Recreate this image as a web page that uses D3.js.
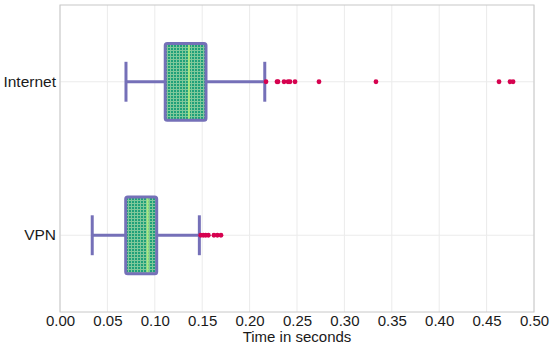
<!DOCTYPE html>
<html>
<head>
<meta charset="utf-8">
<script src="https://cdn.jsdelivr.net/npm/d3@7"></script>
<style>
  body { margin: 0; background: #fff; }
  svg { font-family: "Liberation Sans", Arial, sans-serif; }
</style>
</head>
<body>
<div id="chart"></div>
<script>
// data
const categories = ["Internet", "VPN"];
const q1 = [0.111, 0.0693];
const median = [0.136, 0.0925];
const q3 = [0.154, 0.102];
const whiskerLow = [0.0696, 0.034];
const whiskerHigh = [0.216, 0.147];
const outliersInternet = [0.2173, 0.2289, 0.230, 0.2363, 0.2405, 0.2426, 0.2479, 0.2732, 0.3333, 0.4631, 0.4747, 0.4779];
const outliersVPN = [0.1484, 0.1512, 0.1537, 0.1565, 0.1624, 0.1660, 0.1698];
const xTicks = [0, 0.05, 0.1, 0.15, 0.2, 0.25, 0.3, 0.35, 0.4, 0.45, 0.5];

const outliers = [outliersInternet, outliersVPN];

const width = 550, height = 344;
const margin = { top: 5, right: 16, bottom: 32, left: 60 };

const svg = d3.select('#chart').append('svg')
  .attr('width', width)
  .attr('height', height);

const defs = svg.append('defs');
const pat = defs.append('pattern')
  .attr('id', 'grid-fill')
  .attr('patternUnits', 'userSpaceOnUse')
  .attr('width', 3)
  .attr('height', 3);
pat.append('rect').attr('width', 3).attr('height', 3).attr('fill', '#20a079');
pat.append('rect').attr('x', 2).attr('width', 1).attr('height', 3).attr('fill', '#80c89a');
pat.append('rect').attr('y', 2).attr('width', 3).attr('height', 1).attr('fill', '#80c89a');

const x = d3.scaleLinear()
  .domain([0, 0.5])
  .range([margin.left, width - margin.right]);

const y = d3.scaleBand()
  .domain(categories)
  .range([margin.top, height - margin.bottom]);

const g = svg.append('g');

// grid
g.selectAll('.vgrid').data(xTicks).enter().append('line')
  .attr('x1', d => x(d)).attr('x2', d => x(d))
  .attr('y1', margin.top).attr('y2', height - margin.bottom)
  .attr('stroke', '#ebebeb').attr('stroke-width', 1);

g.selectAll('.hgrid').data(categories).enter().append('line')
  .attr('x1', margin.left).attr('x2', width - margin.right)
  .attr('y1', d => y(d) + y.bandwidth() / 2).attr('y2', d => y(d) + y.bandwidth() / 2)
  .attr('stroke', '#ebebeb').attr('stroke-width', 1);

// boxes
const boxH = y.bandwidth() * 0.5;
const capH = y.bandwidth() * 0.26;
const purple = '#7570b8';

categories.forEach((c, i) => {
  const cy = y(c) + y.bandwidth() / 2;
  const bg = g.append('g');
  // whiskers
  bg.append('line')
    .attr('x1', x(whiskerLow[i])).attr('x2', x(q1[i]))
    .attr('y1', cy).attr('y2', cy)
    .attr('stroke', purple).attr('stroke-width', 3);
  bg.append('line')
    .attr('x1', x(q3[i])).attr('x2', x(whiskerHigh[i]))
    .attr('y1', cy).attr('y2', cy)
    .attr('stroke', purple).attr('stroke-width', 3);
  [whiskerLow[i], whiskerHigh[i]].forEach(v => {
    bg.append('line')
      .attr('x1', x(v)).attr('x2', x(v))
      .attr('y1', cy - capH / 2).attr('y2', cy + capH / 2)
      .attr('stroke', purple).attr('stroke-width', 3);
  });
  // box
  bg.append('rect')
    .attr('x', x(q1[i])).attr('width', x(q3[i]) - x(q1[i]))
    .attr('y', cy - boxH / 2).attr('height', boxH)
    .attr('rx', 2).attr('ry', 2)
    .attr('fill', 'url(#grid-fill)')
    .attr('stroke', purple).attr('stroke-width', 3);
  // median
  bg.append('line')
    .attr('x1', x(median[i])).attr('x2', x(median[i]))
    .attr('y1', cy - boxH / 2 + 1.5).attr('y2', cy + boxH / 2 - 1.5)
    .attr('stroke', '#a8e880').attr('stroke-width', 2);
  // outliers
  bg.selectAll('.out').data(outliers[i]).enter().append('circle')
    .attr('cx', d => x(d)).attr('cy', cy).attr('r', 2.4)
    .attr('fill', '#d6024f');
});

// panel border
g.append('rect')
  .attr('x', margin.left).attr('y', margin.top)
  .attr('width', width - margin.right - margin.left)
  .attr('height', height - margin.bottom - margin.top)
  .attr('fill', 'none').attr('stroke', '#c8c8c8').attr('stroke-width', 1);

// x axis
const xAxis = svg.append('g')
  .attr('transform', `translate(0,${height - margin.bottom})`)
  .call(d3.axisBottom(x).tickValues(xTicks).tickFormat(d3.format('.2f')).tickSize(0).tickPadding(3));
xAxis.select('.domain').remove();
xAxis.selectAll('text').attr('font-size', 15).attr('fill', '#1a1a1a')
  .style('font-family', '"Liberation Sans", Arial, sans-serif');

// y axis
const yAxis = svg.append('g')
  .attr('transform', `translate(${margin.left},0)`)
  .call(d3.axisLeft(y).tickSize(0).tickPadding(4));
yAxis.select('.domain').remove();
yAxis.selectAll('text').attr('font-size', 15.5).attr('fill', '#1a1a1a')
  .style('font-family', '"Liberation Sans", Arial, sans-serif');

// axis title
svg.append('text')
  .attr('x', (margin.left + width - margin.right) / 2)
  .attr('y', height - 2.5)
  .attr('text-anchor', 'middle')
  .attr('font-size', 15)
  .attr('fill', '#1a1a1a')
  .text('Time in seconds');
</script>
</body>
</html>
